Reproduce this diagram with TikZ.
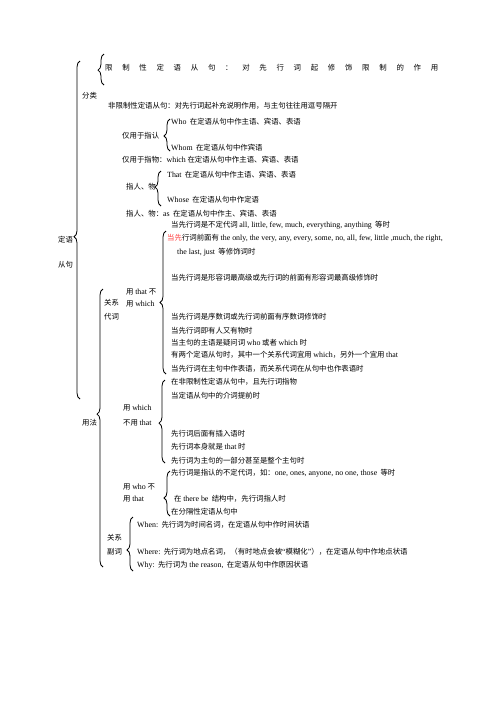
\documentclass[tikz,border=0pt]{standalone}
\usepackage{fontspec}
\setmainfont{Liberation Serif}
\newfontfamily\cjk{Noto Sans CJK SC}
\usetikzlibrary{decorations.pathreplacing}
\newcommand\en[1]{{\fontsize{7.9}{9}\selectfont\rmfamily #1}}
\tikzset{
  txt/.style={anchor=west, inner sep=0pt, font=\fontsize{7.4}{9}\selectfont\cjk},
  lbrace/.style={decorate, line width=0.8pt, decoration={brace, amplitude=6pt, aspect=#1}},
}
\newcommand\brc[5]{% name, x, top, bottom, aspect
  \coordinate (#1b) at (#2+3,#4);
  \coordinate (#1t) at (#2+3,#3);
  \draw[lbrace=#5] (#1b) -- (#1t);}
\begin{document}
\begin{tikzpicture}[x=1pt,y=-1pt]
\useasboundingbox (0,0) rectangle (496,702);
\fill[white] (0,0) rectangle (496,702);
% braces
\brc{b0}{77}{61}{399}{0.48}
\brc{b1}{101}{54}{85}{0.48}
\brc{b2}{167}{119}{151}{0.47}
\brc{b3}{158}{171}{206}{0.54}
\brc{b4}{163}{231}{374}{0.5}
\brc{b5}{162}{380}{463}{0.48}
\brc{b6}{167}{471}{516}{0.4}
\brc{b7}{130}{517}{571}{0.39}
\brc{b8}{100}{289}{567}{0.55}
% texts
\node[txt] (top) at (105,68) {\makebox[333pt][s]{限\hfill 制\hfill 性\hfill 定\hfill 语\hfill 从\hfill 句\hfill ：\hfill 对\hfill 先\hfill 行\hfill 词\hfill 起\hfill 修\hfill 饰\hfill 限\hfill 制\hfill 的\hfill 作\hfill 用}};
\node[txt] (dy) at (58,240) {定语};
\node[txt] (cj) at (58,265) {从句};
\node[txt] (fl) at (82,96) {分类};
\node[txt] (fx) at (108,106) {非限制性定语从句：对先行词起补充说明作用，与主句往往用逗号隔开};
\node[txt] (who) at (171,122) {\en{Who}\ \ 在定语从句中作主语、宾语、表语};
\node[txt] (zr) at (122,136) {仅用于指认};
\node[txt] (whom) at (171,148) {\en{Whom}\ \ 在定语从句中作宾语};
\node[txt] (zw) at (122,160) {仅用于指物：\en{which} 在定语从句中作主语、宾语、表语};
\node[txt] (that) at (167,175) {\en{That}\ \ 在定语从句中作主语、宾语、表语};
\node[txt] (rw) at (126,187) {指人、物};
\node[txt] (whose) at (167,200) {\en{Whose}\ \ 在定语从句中作定语};
\node[txt] (as) at (126,214) {指人、物：\en{as}\ \ 在定语从句中作主、宾语、表语};
\node[txt] (a1) at (171,225) {当先行词是不定代词 \en{all, little, few, much, everything, anything}\ \ 等时};
\node[txt] (a2) at (167,238) {\textcolor{red!75}{当先}行词前面有 \en{the only, the very, any, every, some, no, all, few, little ,much, the right,}};
\node[txt] (a3) at (177,252) {\en{the last, just}\ \ 等修饰词时};
\node[txt] (a4) at (171,278) {当先行词是形容词最高级或先行词的前面有形容词最高级修饰时};
\node[txt] (ut1) at (126,292) {用 \en{that} 不};
\node[txt] (ut2) at (126,304) {用 \en{which}};
\node[txt] (gx1) at (104,303) {关系};
\node[txt] (gx2) at (104,317) {代词};
\node[txt] (a5) at (171,317) {当先行词是序数词或先行词前面有序数词修饰时};
\node[txt] (a6) at (171,331) {当先行词即有人又有物时};
\node[txt] (a7) at (171,343) {当主句的主语是疑问词 \en{who} 或者 \en{which} 时};
\node[txt] (a8) at (171,355) {有两个定语从句时，其中一个关系代词宜用 \en{which}，另外一个宜用 \en{that}};
\node[txt] (a9) at (171,369) {当先行词在主句中作表语，而关系代词在从句中也作表语时};
\node[txt] (c1) at (171,382) {在非限制性定语从句中，且先行词指物};
\node[txt] (c2) at (171,396) {当定语从句中的介词提前时};
\node[txt] (uw1) at (123,408) {用 \en{which}};
\node[txt] (uw2) at (123,423) {不用 \en{that}};
\node[txt] (yf) at (82,423) {用法};
\node[txt] (c3) at (171,434) {先行词后面有插入语时};
\node[txt] (c4) at (171,447) {先行词本身就是 \en{that} 时};
\node[txt] (c5) at (171,461) {先行词为主句的一部分甚至是整个主句时};
\node[txt] (d1) at (171,473) {先行词是指认的不定代词，如：\en{one, ones, anyone, no one, those}\ \ 等时};
\node[txt] (uo1) at (123,487) {用 \en{who} 不};
\node[txt] (uo2) at (123,499) {用 \en{that}};
\node[txt] (d2) at (174,499) {在 \en{there be}\ \ 结构中，先行词指人时};
\node[txt] (d3) at (171,512) {在分隔性定语从句中};
\node[txt] (when) at (137,525) {\en{When:}\ \ 先行词为时间名词，在定语从句中作时间状语};
\node[txt] (fc1) at (107,538) {关系};
\node[txt] (fc2) at (107,552) {副词};
\node[txt] (where) at (137,552) {\en{Where:}\ \ 先行词为地点名词，（有时地点会被\en{“}模糊化\en{”}），在定语从句中作地点状语};
\node[txt] (why) at (137,565) {\en{Why:}\ \ 先行词为 \en{the reason,}\ \ 在定语从句中作原因状语};
\end{tikzpicture}
\end{document}
